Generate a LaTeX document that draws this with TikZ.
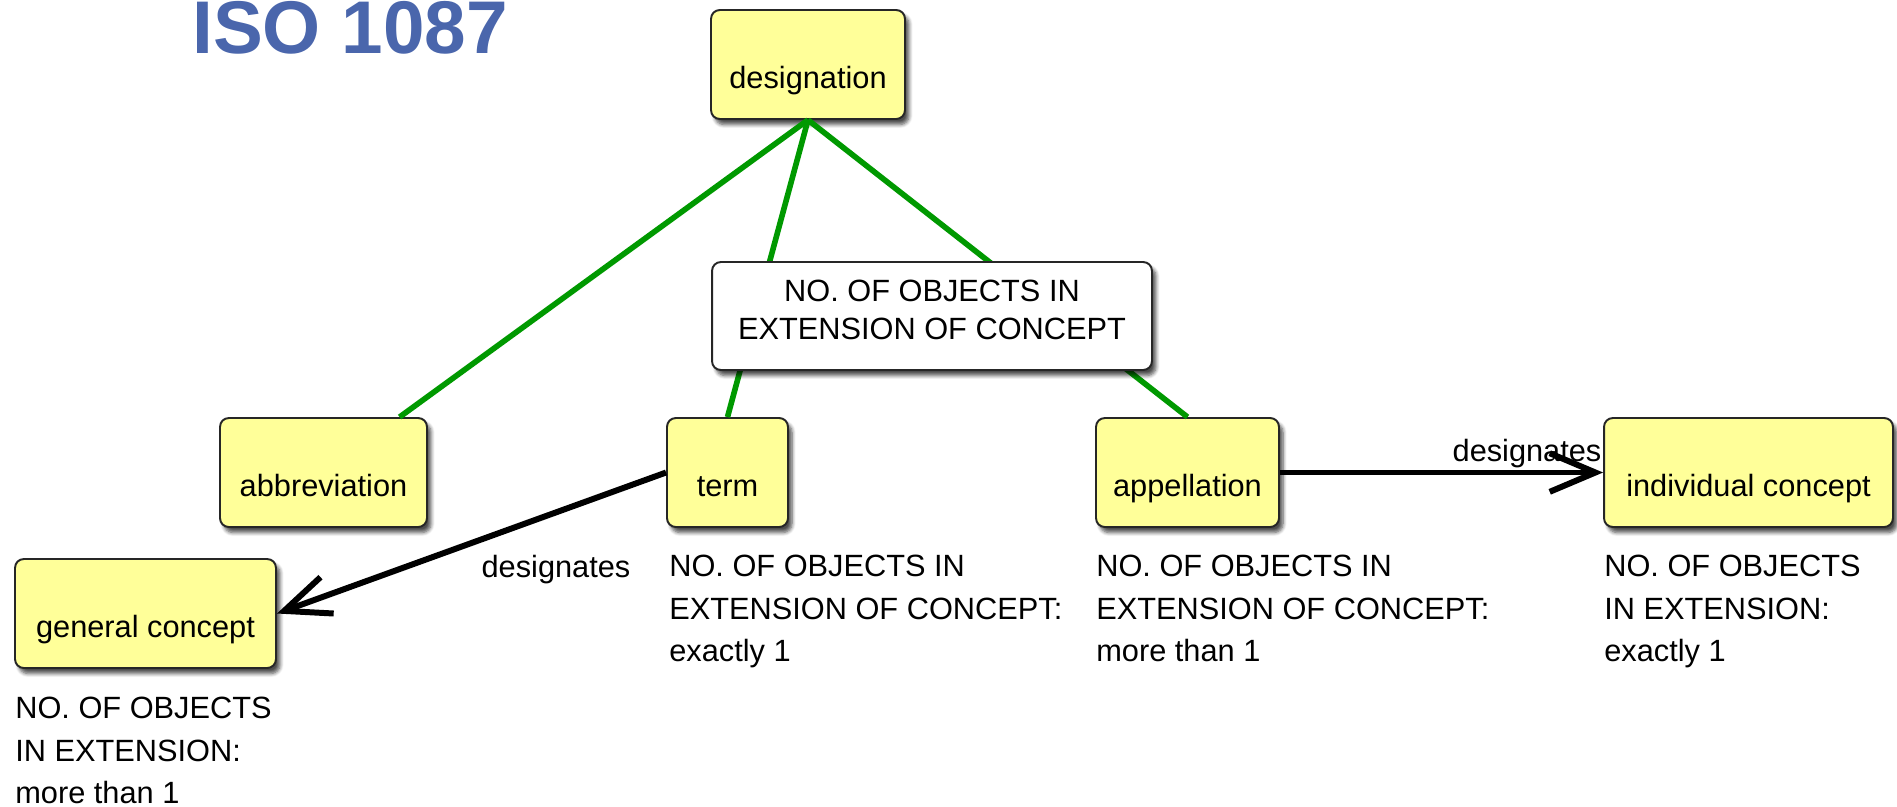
\documentclass[tikz,border=0pt]{standalone}
\usepackage{fontspec}
\setmainfont{Liberation Sans}
\definecolor{cYellow}{HTML}{FFFF99}
\definecolor{cGreen}{HTML}{009900}
\definecolor{cTitle}{HTML}{4A66AC}
\usetikzlibrary{shapes,arrows.meta,shadows.blur}
\tikzset{
	concept/.style={draw=black!85, line width=1.1pt, fill=cYellow, rounded corners=5pt,
		minimum height=2.18cm, text height=30.8pt, text depth=4pt,
		font=\fontsize{17.5}{24.2}\selectfont,
		blur shadow={shadow xshift=0.08cm, shadow yshift=-0.11cm, shadow blur steps=6, shadow opacity=70}},
	linkphrase/.style={draw=black!85, line width=1.1pt, fill=white, rounded corners=5pt,
		minimum width=8.8cm, minimum height=2.16cm, align=center, text depth=7pt,
		font=\fontsize{17.5}{21.6}\selectfont,
		blur shadow={shadow xshift=0.08cm, shadow yshift=-0.11cm, shadow blur steps=6, shadow opacity=70}},
	note/.style={anchor=north west, inner sep=0pt, align=left, font=\fontsize{17.5}{24.2}\selectfont},
	linklabel/.style={anchor=base, inner sep=0pt, font=\fontsize{17.5}{24.2}\selectfont},
	green link/.style={draw=cGreen, line width=3.2pt},
	designates/.style={-{Straight Barb[length=26pt,width=22pt]}, line width=3.4pt}
}

\begin{document}
\begin{tikzpicture}[x=0.02cm, y=-0.02cm]
		\useasboundingbox (0,0) rectangle (1897,806);
		\node[anchor=base west, inner sep=0pt, text=cTitle, font=\fontsize{42.5}{48}\selectfont\bfseries] (iso) at (192,53) {ISO 1087};
		% concepts
		\node[concept, minimum width=3.88cm] (designation) at (808,64.5) {designation};
		\node[concept, minimum width=4.14cm] (abbreviation) at (323.5,472.5) {abbreviation};
		\node[concept, minimum width=2.42cm] (term) at (727.5,472.5) {term};
		\node[concept, minimum width=3.66cm] (appellation) at (1187.5,472.5) {appellation};
		\node[concept, minimum width=5.78cm] (individual) at (1748.5,472.5) {individual concept};
		\node[concept, minimum width=5.22cm] (general) at (145.5,613.5) {general concept};
		% links
		\draw[green link] (designation.south) -- (abbreviation);
		\draw[green link] (designation.south) -- (term.north);
		\draw[green link] (designation.south) -- (appellation.north);
		\node[linkphrase] (extension) at (932,316) {NO. OF OBJECTS IN\\EXTENSION OF CONCEPT};
		\draw[designates] (term.west) -- (general.east);
		\draw[designates] (appellation.east) -- (individual.west);
		\node[linklabel] (desgeneral) at (556,577) {designates};
		\node[linklabel] (desindividual) at (1527,461) {designates};
		% notes
		\node[note] (termnote) at (669,555) {NO. OF OBJECTS IN\\EXTENSION OF CONCEPT:\\exactly 1};
		\node[note] (appelnote) at (1096,555) {NO. OF OBJECTS IN\\EXTENSION OF CONCEPT:\\more than 1};
		\node[note] (indivnote) at (1604,555) {NO. OF OBJECTS\\IN EXTENSION:\\exactly 1};
		\node[note] (generalnote) at (15,697) {NO. OF OBJECTS\\IN EXTENSION:\\more than 1};
		\end{tikzpicture}
\end{document}
